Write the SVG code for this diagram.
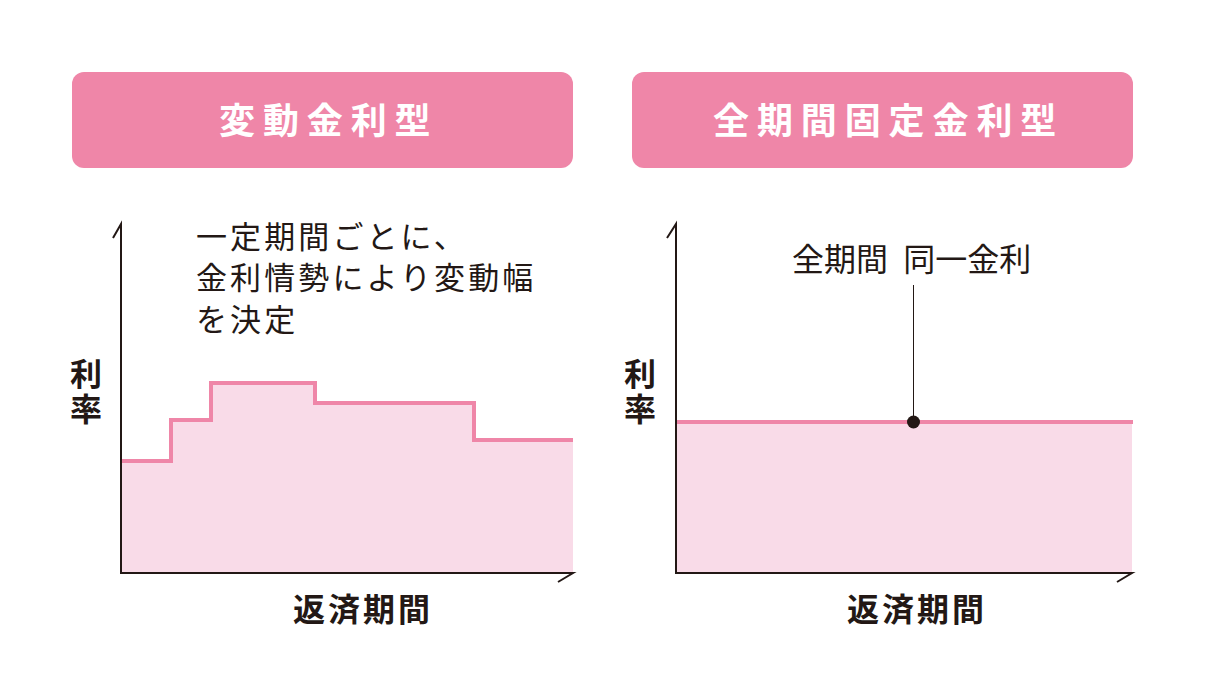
<svg xmlns="http://www.w3.org/2000/svg" width="1205" height="682" viewBox="0 0 1205 682">
<style>
text{font-family:"Noto Sans CJK JP","Noto Sans CJK SC",sans-serif}
.hdr{fill:#ef86a8}
.hdrt{fill:#fff;font-size:36px;font-weight:700;letter-spacing:7.9px}
.cap{fill:#231815;font-size:31px;font-weight:400;letter-spacing:3.1px}
.cap2{fill:#231815;font-size:32px;font-weight:400;word-spacing:8px}
.ax{fill:#231815;font-size:32px;font-weight:700}
.axv{writing-mode:vertical-rl;letter-spacing:3px}
.axh{letter-spacing:3px}
.axis{fill:none;stroke:#231815;stroke-width:2}
.area{fill:#f9dbe8}
.rate{fill:none;stroke:#ef86a8;stroke-width:4}
</style>
<rect width="1205" height="682" fill="#fff"/>
<g id="header-variable">
<rect class="hdr" x="72" y="72" width="501" height="96" rx="12"/>
<text class="hdrt" x="219" y="134">変動金利型</text>
</g>
<g id="header-fixed">
<rect class="hdr" x="632" y="72" width="501" height="96" rx="12"/>
<text class="hdrt" x="713" y="134">全期間固定金利型</text>
</g>
<g id="chart-variable">
<path class="area" d="M121 461H171V420H211V383H315V403H474V440H573V573H121Z"/>
<path class="rate" d="M121 461H171V420H211V383H315V403H474V440H573"/>
<text class="cap" x="196" y="248">一定期間ごとに、</text>
<text class="cap" x="196" y="289">金利情勢により変動幅</text>
<text class="cap" x="196" y="331">を決定</text>
<text class="ax axv" x="86" y="358">利率</text>
<text class="ax axh" x="293" y="621">返済期間</text>
</g>
<g id="chart-fixed">
<rect class="area" x="676" y="422" width="456" height="151"/>
<path class="rate" d="M676 422H1133"/>
<text class="cap2" x="792" y="271">全期間 同一金利</text>
<text class="ax axv" x="640" y="358">利率</text>
<text class="ax axh" x="847" y="621">返済期間</text>
</g>
<g id="connectors">
<path class="axis" d="M113 238L121 224V573H573L558 582"/>
<path class="axis" d="M667 238L676 224V573H1132L1117 582"/>
<path d="M913.500 285V422" stroke="#231815" stroke-width="1" fill="none"/>
<circle cx="913.500" cy="422" r="6.500" fill="#231815"/>
</g>
</svg>
